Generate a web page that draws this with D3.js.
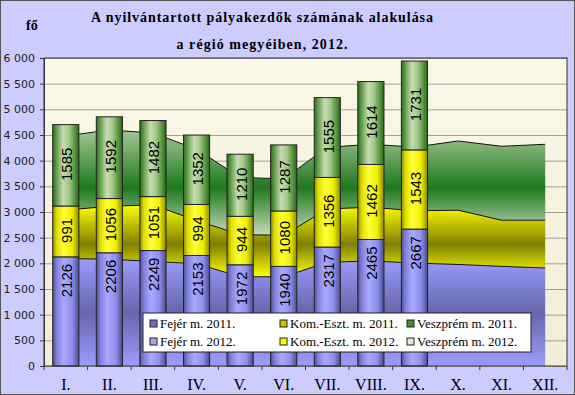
<!DOCTYPE html>
<html>
<head>
<meta charset="utf-8">
<script src="https://cdn.jsdelivr.net/npm/d3@7"></script>
<style>
  body { margin: 0; background: #fff; }
  svg { display: block; }
  .y-axis text { font-family: Tahoma, "DejaVu Sans", sans-serif; font-size: 11px; fill: #222; }
  .y-axis path, .y-axis line { stroke: #333; }
  .grid line { stroke: #a3a098; }
  .grid path { display: none; }
  .bar-label { font-family: Arial, "Liberation Sans", sans-serif; font-size: 15px; fill: #000; }
  .x-label { font-family: "Times New Roman", "Liberation Serif", serif; font-size: 16px; fill: #000; }
  .legend-text { font-family: "Times New Roman", "Liberation Serif", serif; font-size: 13px; fill: #000; }
</style>
</head>
<body>
<div id="chart"></div>
<script>
// months on the category axis
const months = ["I.", "II.", "III.", "IV.", "V.", "VI.", "VII.", "VIII.", "IX.", "X.", "XI.", "XII."]

// 2011 (drawn as stacked areas)
const fejer2011    = [2095, 2080, 2037, 1993, 1739, 1739, 2019, 2048, 2005, 1978, 1941, 1909]
const komEszt2011  = [ 940, 1033, 1100,  841,  821,  808, 1040, 1046, 1018, 1057,  899,  931]
const veszprem2011 = [1448, 1484, 1403, 1388, 1114, 1098, 1202, 1225, 1241, 1349, 1440, 1479]

// 2012 (stacked columns, Jan-Sep)
const fejer2012    = [2126, 2206, 2249, 2153, 1972, 1940, 2317, 2465, 2667]
const komEszt2012  = [ 991, 1056, 1051,  994,  944, 1080, 1356, 1462, 1543]
const veszprem2012 = [1585, 1592, 1482, 1352, 1210, 1287, 1555, 1614, 1731]

const yTicks = [0, 500, 1000, 1500, 2000, 2500, 3000, 3500, 4000, 4500, 5000, 5500, 6000]

const keys = ["fejer", "kom", "vesz"]
const legendNames = {
    fejer: ["Fejér m. 2011.", "Fejér m. 2012."],
    kom: ["Kom.-Eszt. m. 2011.", "Kom.-Eszt. m. 2012."],
    vesz: ["Veszprém m. 2011.", "Veszprém m. 2012."]
}

const rows2011 = months.map((m, i) => ({month: m, fejer: fejer2011[i], kom: komEszt2011[i], vesz: veszprem2011[i]}))
const rows2012 = fejer2012.map((v, i) => ({month: months[i], fejer: v, kom: komEszt2012[i], vesz: veszprem2012[i]}))

const width = 575, height = 395
const plot = {left: 44, right: 567, top: 58, bottom: 366}

const svg = d3.select("#chart").append("svg")
    .attr("width", width)
    .attr("height", height)

const defs = svg.append("defs")

function gradient(id, vertical, stops) {
    const g = defs.append("linearGradient").attr("id", id)
        .attr("x1", 0).attr("y1", 0)
        .attr("x2", vertical ? 0 : 1).attr("y2", vertical ? 1 : 0)
    stops.forEach(s => g.append("stop").attr("offset", s[0]).attr("stop-color", s[1]))
}

gradient("bg-plot", true, [[0, "#fbf8ea"], [1, "#f3edd6"]])
// column gradients (horizontal, cylinder look)
gradient("bar-fejer", false, [[0, "#50508f"], [0.15, "#8080dc"], [0.42, "#a9a9ff"], [0.75, "#8e8eee"], [1, "#4c4c8a"]])
gradient("bar-kom", false, [[0, "#8f8a00"], [0.15, "#dede00"], [0.42, "#ffff3a"], [0.75, "#eeee00"], [1, "#8f8a00"]])
gradient("bar-vesz", false, [[0, "#2c6a1c"], [0.14, "#5f9c46"], [0.4, "#c6dcb2"], [0.62, "#a4c889"], [0.88, "#4b8c34"], [1, "#2a661a"]])
// area gradients (vertical)
gradient("area-fejer", true, [[0, "#9c9cff"], [0.5, "#6666ad"], [1, "#9c9cff"]])
gradient("area-kom", true, [[0, "#ffff00"], [0.55, "#7f7f05"], [1, "#ffff00"]])
gradient("area-vesz", true, [[0, "#a4c894"], [0.55, "#1e781e"], [1, "#c6dcbc"]])

// outer background
svg.append("rect")
    .attr("x", 0.5).attr("y", 0.5)
    .attr("width", width - 1).attr("height", height - 1)
    .attr("fill", "#ccccff")
    .attr("stroke", "#555")

const x = d3.scaleBand()
    .domain(months)
    .range([plot.left, plot.right])
    .paddingInner(0.4)
    .paddingOuter(0.2)

const cx = m => x(m) + x.bandwidth() / 2

const y = d3.scaleLinear()
    .domain([0, 6000])
    .range([plot.bottom, plot.top])

svg.append("rect")
    .attr("x", plot.left).attr("y", plot.top)
    .attr("width", plot.right - plot.left).attr("height", plot.bottom - plot.top)
    .attr("fill", "url(#bg-plot)")

svg.append("g")
    .attr("class", "grid")
    .attr("transform", `translate(${plot.left},0)`)
    .call(d3.axisLeft(y).tickValues(yTicks).tickSize(-(plot.right - plot.left)).tickFormat(""))

// 2011 stacked areas
const stack = d3.stack().keys(keys)
const series2011 = stack(rows2011)

const area = d3.area()
    .x(d => cx(d.data.month))
    .y0(d => y(d[0]))
    .y1(d => y(d[1]))

svg.append("g").selectAll("path")
    .data(series2011)
    .join("path")
        .attr("d", area)
        .attr("fill", d => `url(#area-${d.key})`)

const line = d3.line()
    .x(d => cx(d.data.month))
    .y(d => y(d[1]))

svg.append("g").selectAll("path")
    .data(series2011)
    .join("path")
        .attr("d", line)
        .attr("fill", "none")
        .attr("stroke", "#111")
        .attr("stroke-width", 1)

// 2012 stacked columns
const series2012 = stack(rows2012)

const layers = svg.append("g").selectAll("g")
    .data(series2012)
    .join("g")
        .attr("fill", d => `url(#bar-${d.key})`)

layers.selectAll("rect")
    .data(d => d)
    .join("rect")
        .attr("x", d => x(d.data.month))
        .attr("y", d => y(d[1]))
        .attr("width", x.bandwidth())
        .attr("height", d => y(d[0]) - y(d[1]))
        .attr("stroke", "#222")
        .attr("stroke-width", 1)

// bottom segment labels sit at the inside end, the others are centred
layers.selectAll("text")
    .data(d => d.map(p => ({p, key: d.key})))
    .join("text")
        .attr("class", "bar-label")
        .attr("text-anchor", d => d.key === "fejer" ? "end" : "middle")
        .attr("dominant-baseline", "central")
        .attr("transform", d => {
            const ty = d.key === "fejer" ? y(d.p[1]) + 7 : (y(d.p[0]) + y(d.p[1])) / 2 - 1
            return `translate(${cx(d.p.data.month) + 1},${ty}) rotate(-90)`
        })
        .text(d => d.p.data[d.key])

// plot border
svg.append("rect")
    .attr("x", plot.left).attr("y", plot.top)
    .attr("width", plot.right - plot.left).attr("height", plot.bottom - plot.top)
    .attr("fill", "none")
    .attr("stroke", "#333")

// axes
const fmt = d3.formatLocale({decimal: ",", thousands: " ", grouping: [3], currency: ["", ""]}).format(",")

svg.append("g")
    .attr("class", "y-axis")
    .attr("transform", `translate(${plot.left},0)`)
    .call(d3.axisLeft(y).tickValues(yTicks).tickSize(4).tickPadding(5).tickFormat(fmt))

// category ticks between months
svg.append("g").selectAll("line")
    .data(d3.range(months.length + 1))
    .join("line")
        .attr("x1", i => plot.left + i * x.step())
        .attr("x2", i => plot.left + i * x.step())
        .attr("y1", plot.bottom)
        .attr("y2", plot.bottom + 4)
        .attr("stroke", "#333")

svg.append("g").selectAll("text")
    .data(months)
    .join("text")
        .attr("class", "x-label")
        .attr("x", d => cx(d))
        .attr("y", 390)
        .attr("text-anchor", "middle")
        .text(d => d)

// legend
const legend = svg.append("g").attr("transform", "translate(143,313)")
legend.append("rect")
    .attr("width", 388).attr("height", 39)
    .attr("fill", "#fff")
    .attr("stroke", "#222")

const legendCols = [7, 137, 264]
const markerFill = {
    fejer: ["#6b6bcf", "#a3a3f5"],
    kom: ["#c8c800", "#ffff00"],
    vesz: ["#3f8f30", "#d8ecd0"]
}
keys.forEach((k, ci) => {
    [0, 1].forEach(ri => {
        const g = legend.append("g").attr("transform", `translate(${legendCols[ci]},${ri * 18})`)
        g.append("rect")
            .attr("x", 0).attr("y", 7)
            .attr("width", 7).attr("height", 7)
            .attr("fill", markerFill[k][ri])
            .attr("stroke", "#222")
        g.append("text")
            .attr("class", "legend-text")
            .attr("x", 10).attr("y", 15)
            .text(legendNames[k][ri])
    })
})

// titles
svg.append("text")
    .attr("x", 262).attr("y", 22)
    .attr("text-anchor", "middle")
    .attr("textLength", 342)
    .attr("lengthAdjust", "spacing")
    .style("font-family", "'Times New Roman', 'Liberation Serif', serif")
    .style("font-weight", "bold")
    .style("font-size", "14px")
    .text("A nyilvántartott pályakezdők számának alakulása")

svg.append("text")
    .attr("x", 262).attr("y", 48.5)
    .attr("text-anchor", "middle")
    .attr("textLength", 171)
    .attr("lengthAdjust", "spacing")
    .style("font-family", "'Times New Roman', 'Liberation Serif', serif")
    .style("font-weight", "bold")
    .style("font-size", "14px")
    .text("a régió megyéiben, 2012.")

svg.append("text")
    .attr("x", 26).attr("y", 30)
    .style("font-family", "'Times New Roman', 'Liberation Serif', serif")
    .style("font-weight", "bold")
    .style("font-size", "14px")
    .text("fő")
</script>
</body>
</html>
